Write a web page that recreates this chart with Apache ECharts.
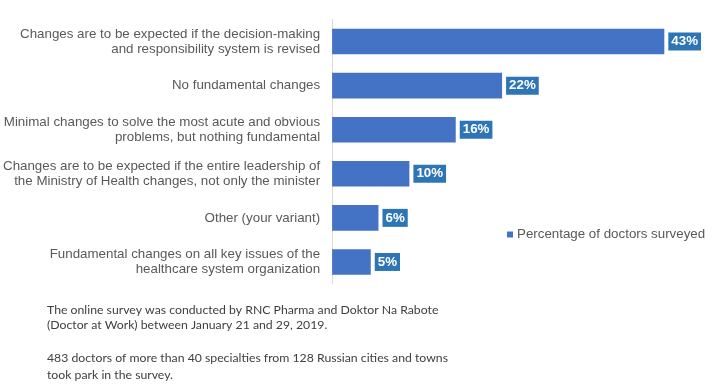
<!DOCTYPE html>
<html><head><meta charset="utf-8">
<script src="https://cdn.jsdelivr.net/npm/echarts@6/dist/echarts.min.js"></script>
<style>html,body{margin:0;padding:0;background:#fff}#c{width:719px;height:384px}</style>
</head><body><div id="c"></div>
<script>
const categories = [
  "Changes are to be expected if the decision-making\nand responsibility system is revised",
  "No fundamental changes",
  "Minimal changes to solve the most acute and obvious\nproblems, but nothing fundamental",
  "Changes are to be expected if the entire leadership of\nthe Ministry of Health changes, not only the minister",
  "Other (your variant)",
  "Fundamental changes on all key issues of the\nhealthcare system organization"
];
const values = [43, 22, 16, 10, 6, 5];
const seriesName = "Percentage of doctors surveyed";
const footnotes = [
  "The online survey was conducted by RNC Pharma and Doktor Na Rabote",
  "(Doctor at Work) between January 21 and 29, 2019.",
  "483 doctors of more than 40 specialties from 128 Russian cities and towns",
  "took park in the survey."
];

const chart = echarts.init(document.getElementById('c'));
chart.setOption({
  animation: false,
  grid: {left: 332, top: 19.5, width: 386.4, height: 264.5, containLabel: false},
  legend: {
    data: [seriesName], left: 507, top: 228, padding: 0, icon: 'rect', itemWidth: 6, itemHeight: 6, itemGap: 3,
    textStyle: {fontFamily: 'Liberation Sans', fontSize: 13.33, color: '#595959', padding: [0,0,0,-1]}
  },
  xAxis: {type: 'value', min: 0, max: 50, show: false},
  yAxis: {
    type: 'category', inverse: true, data: categories,
    axisLine: {show: true, lineStyle: {color: '#D9D9D9', width: 1}},
    axisTick: {show: false},
    axisLabel: {margin: 12, fontFamily: 'Liberation Sans', fontSize: 13.33, color: '#595959', lineHeight: 15, align: 'right'}
  },
  series: [{
    name: seriesName, type: 'bar', data: values, barWidth: '58%',
    itemStyle: {color: '#4472C4'},
    label: {
      show: true, position: 'right', distance: 4, formatter: '{c}%',
      backgroundColor: '#2E75B6', color: '#fff', fontWeight: 'bold', fontFamily: 'Liberation Sans', fontSize: 13.33,
      padding: [3, 3, 2, 3]
    }
  }],
  graphic: footnotes.map((t, i) => ({
    type: 'text', left: 47, top: [304, 319, 352, 369][i],
    style: {text: t, fill: '#404040', font: '12.25px Lato'}
  }))
});
</script></body></html>
